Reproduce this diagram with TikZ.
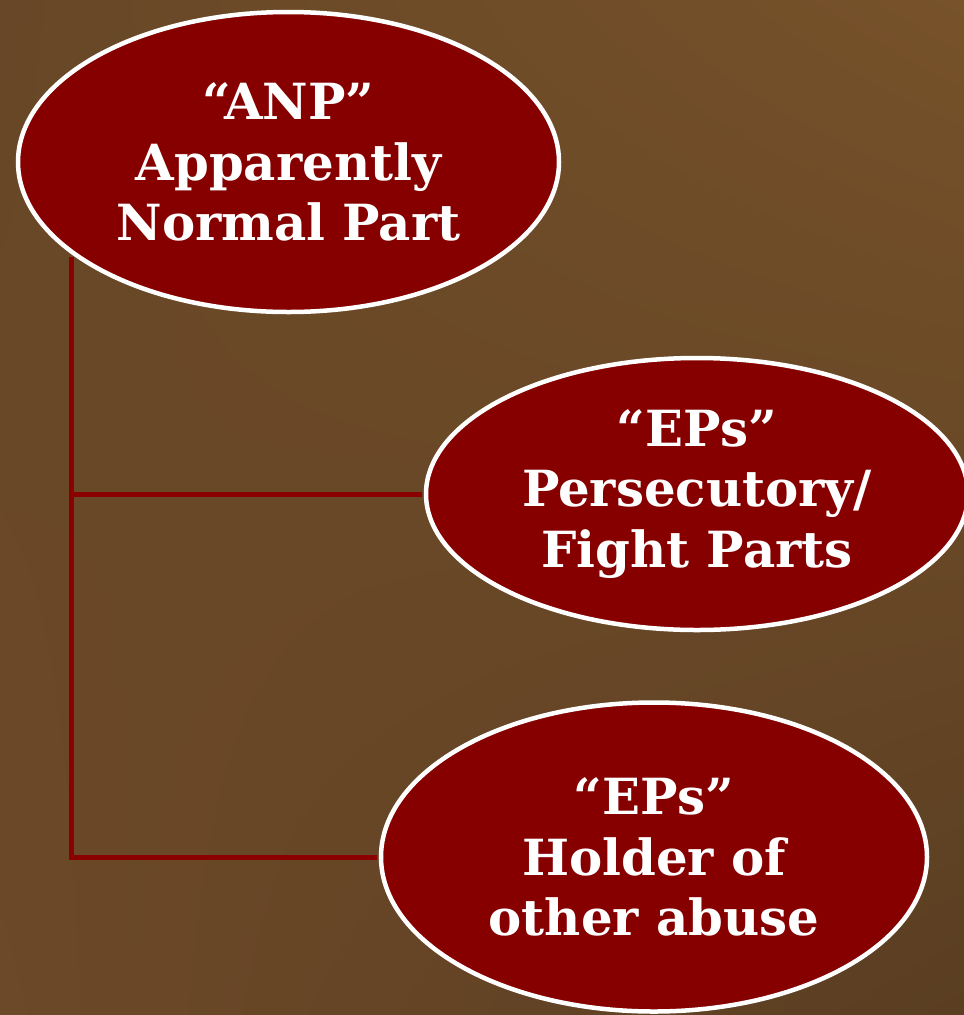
\documentclass[tikz,border=0pt]{standalone}
\usepackage{fontspec}
\setmainfont{DejaVu Serif}
\usetikzlibrary{shapes.geometric,shadings}
\definecolor{epred}{HTML}{860000}
\definecolor{linered}{HTML}{8B0000}
\definecolor{bgUL}{HTML}{674727}
\definecolor{bgUR}{HTML}{77522A}
\definecolor{bgLL}{HTML}{6C4928}
\definecolor{bgLR}{HTML}{5A3E22}
\begin{document}
\begin{tikzpicture}[x=1bp,y=-1bp,
  ell/.style={ellipse, draw=white, line width=4.5bp, fill=epred, inner sep=0pt,
    text=white, font=\bfseries\fontsize{50}{61}\selectfont, align=center},
  conn/.style={draw=linered, line width=5bp, shorten >=2bp}]
\shade[upper left=bgUL, upper right=bgUR, lower left=bgLL, lower right=bgLR]
  (0,0) rectangle (964,1015);
\useasboundingbox (0,0) rectangle (964,1015);
\node[ell, minimum width=541bp, minimum height=300bp] (anp) at (288.5,162)
  {“ANP”\\Apparently\\Normal Part};
\node[ell, minimum width=542bp, minimum height=272bp] (fight) at (697,494)
  {“EPs”\\Persecutory/\\Fight Parts};
\node[ell, minimum width=546bp, minimum height=309bp] (holder) at (654,857)
  {“EPs”\\Holder of\\other abuse};
\coordinate (top) at (71.5,257);
\draw[conn] (top) |- (holder.west);
\draw[conn] (top |- fight.west) -- (fight.west);
\end{tikzpicture}
\end{document}
